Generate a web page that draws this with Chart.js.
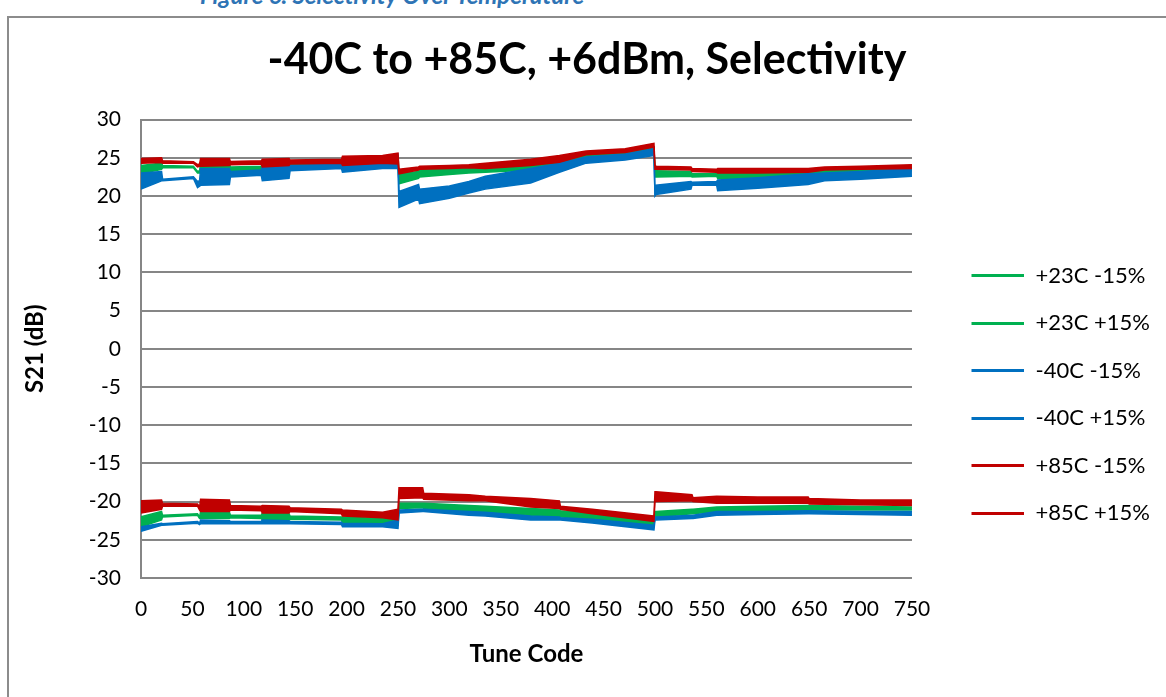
<!DOCTYPE html>
<html>
<head>
<meta charset="utf-8">
<script src="https://cdn.jsdelivr.net/npm/chart.js@4.4.1/dist/chart.umd.min.js"></script>
<style>
  html, body { margin: 0; padding: 0; background: #fff; overflow: hidden; }
  #caption { position: absolute; top: -20px; left: 200px; font: italic bold 24px Lato, sans-serif; color: #2E74B5; white-space: nowrap; }
  #frame { position: absolute; left: 7px; top: 16px; width: 1180px; height: 700px; border: 2px solid #8c8c8c; box-sizing: border-box; }
  #wrap { position: absolute; left: 0; top: 0; width: 1166px; height: 697px; }
</style>
</head>
<body>
<div id="caption">Figure 6. Selectivity Over Temperature</div>
<div id="frame"></div>
<div id="wrap"><canvas id="chart"></canvas></div>
<script>
// tune codes where the traces were read (upper group / lower group)
const topCodes = [0, 20, 21, 51, 55, 57, 58, 86, 87, 117, 118, 144, 145, 195, 196, 235, 250, 251, 270, 271, 300, 319, 335, 379, 407, 433, 471, 499, 500, 501, 535, 536, 560, 561, 600, 649, 665, 700, 750];
const botCodes = [0, 20, 21, 55, 57, 58, 86, 87, 117, 118, 144, 145, 195, 196, 235, 250, 251, 274, 275, 319, 335, 379, 407, 408, 439, 499, 500, 501, 536, 537, 560, 600, 649, 650, 700, 750];

// each trace ripples code to code, so it is kept as its upper and lower edge (dB)
const g23TopHi = [24.0, 24.3, 24.0, 23.9, 23.2, 23.3, 24.4, 24.4, 23.8, 23.9, 24.4, 24.5, 24.2, 24.4, 24.8, 25.1, 25.3, 22.9, 23.2, 23.5, 23.6, 23.6, 23.9, 24.4, 24.8, 25.5, 25.9, 26.4, 23.3, 23.3, 23.2, 22.9, 22.9, 23.1, 23.1, 23.2, 23.4, 23.5, 23.8];
const g23TopLo = [22.9, 23.5, 23.7, 23.7, 23.0, 23.0, 23.3, 23.4, 23.2, 23.4, 23.2, 23.5, 23.8, 24.0, 23.8, 24.1, 24.0, 21.6, 22.3, 22.5, 22.8, 23.0, 23.1, 23.4, 23.9, 24.9, 25.3, 25.9, 22.5, 22.5, 22.6, 22.5, 22.6, 22.3, 22.3, 22.5, 22.9, 23.0, 23.3];
const m40TopHi = [23.0, 23.2, 22.2, 22.5, 21.9, 22.0, 23.6, 23.6, 23.2, 23.4, 23.9, 24.0, 24.0, 24.2, 24.6, 24.8, 25.5, 20.6, 21.5, 20.9, 21.3, 21.9, 22.6, 23.6, 24.3, 25.1, 25.5, 26.2, 20.1, 21.4, 21.9, 21.8, 21.9, 22.1, 22.4, 22.9, 23.0, 23.2, 23.6];
const m40TopLo = [20.9, 22.0, 22.0, 22.3, 21.1, 21.3, 21.4, 21.5, 22.5, 22.7, 22.0, 22.3, 23.3, 23.6, 23.1, 23.6, 23.6, 18.5, 19.6, 19.0, 19.7, 20.4, 20.9, 21.7, 23.1, 24.3, 24.7, 25.3, 20.0, 20.2, 20.9, 21.4, 21.4, 20.7, 21.0, 21.5, 22.0, 22.2, 22.6];
const p85TopHi = [24.9, 25.0, 24.6, 24.5, 24.1, 24.2, 24.9, 24.9, 24.5, 24.6, 24.8, 24.9, 24.7, 24.8, 25.2, 25.3, 25.6, 23.5, 23.8, 23.9, 24.0, 24.1, 24.3, 24.8, 25.3, 25.9, 26.2, 26.9, 24.0, 23.9, 23.8, 23.6, 23.5, 23.6, 23.6, 23.6, 23.8, 23.9, 24.1];
const p85TopLo = [24.3, 24.4, 24.3, 24.3, 23.8, 23.9, 23.9, 24.0, 24.1, 24.2, 23.8, 24.0, 24.2, 24.3, 24.0, 24.3, 24.2, 22.9, 23.4, 23.5, 23.6, 23.7, 23.6, 24.0, 24.4, 25.4, 25.7, 26.4, 23.5, 23.5, 23.4, 23.2, 23.1, 23.0, 23.0, 23.1, 23.4, 23.5, 23.6];

const g23BotHi = [-22.0, -21.3, -21.8, -21.6, -22.0, -21.3, -21.4, -21.8, -21.8, -21.5, -21.6, -21.9, -22.0, -22.0, -22.2, -22.0, -20.2, -20.2, -20.2, -20.5, -20.6, -20.9, -21.1, -21.2, -21.5, -22.3, -21.3, -21.3, -21.0, -21.0, -20.7, -20.6, -20.5, -20.5, -20.6, -20.7];
const g23BotLo = [-23.3, -22.4, -22.0, -21.8, -22.2, -22.2, -22.2, -22.1, -22.2, -22.4, -22.4, -22.3, -22.4, -22.8, -22.9, -23.1, -20.9, -20.8, -20.9, -21.3, -21.4, -21.8, -22.0, -22.0, -22.2, -23.1, -22.0, -22.0, -21.6, -21.6, -21.3, -21.2, -21.1, -21.1, -21.1, -21.1];
const m40BotHi = [-23.3, -22.85, -22.9, -22.6, -22.8, -22.4, -22.5, -22.6, -22.6, -22.4, -22.5, -22.6, -22.7, -22.85, -22.9, -22.4, -21.1, -21.0, -21.0, -21.3, -21.4, -21.9, -22.0, -22.1, -22.3, -23.1, -22.0, -22.0, -21.8, -21.8, -21.3, -21.3, -21.2, -21.2, -21.3, -21.3];
const m40BotLo = [-23.9, -23.1, -23.1, -22.85, -23.0, -22.9, -22.9, -22.9, -22.9, -22.9, -22.9, -22.9, -23.0, -23.3, -23.3, -23.5, -21.5, -21.3, -21.3, -21.8, -21.9, -22.4, -22.4, -22.4, -22.8, -23.7, -22.4, -22.4, -22.2, -22.2, -21.8, -21.7, -21.6, -21.6, -21.7, -21.8];
const p85BotHi = [-19.9, -19.8, -20.2, -20.3, -20.7, -19.7, -19.8, -20.5, -20.6, -20.5, -20.6, -20.8, -21.0, -21.1, -21.4, -21.0, -18.2, -18.2, -18.9, -19.1, -19.3, -19.6, -19.9, -20.6, -21.0, -21.9, -18.7, -18.7, -19.1, -19.5, -19.3, -19.4, -19.4, -19.6, -19.8, -19.8];
const p85BotLo = [-21.5, -21.0, -20.6, -20.6, -21.1, -21.3, -21.3, -21.1, -21.2, -21.5, -21.5, -21.3, -21.6, -21.9, -22.1, -22.4, -19.6, -19.5, -19.7, -19.9, -19.9, -20.7, -20.9, -21.0, -21.6, -22.6, -19.9, -20.0, -19.9, -20.0, -20.2, -20.2, -20.2, -20.3, -20.4, -20.5];

const GREEN = '#00B050', BLUE = '#0070C0', RED = '#C00000';
const FONT = 'Lato, "Open Sans", sans-serif';

// lower edge line + upper edge line filled down to it
function band(name, color, codes, lo, hi, order) {
    return [
        { label: name + ' lo', isLower: true, data: codes.map((c, i) => ({ x: c, y: lo[i] })),
          borderColor: color, backgroundColor: color, fill: false, order: order },
        { label: name, data: codes.map((c, i) => ({ x: c, y: hi[i] })),
          borderColor: color, backgroundColor: color, fill: '-1', order: order }
    ];
}

// legend marker: blank lead-in then the line sample, keeps the legend clear of the plot
const LEGEND_GAP = 34, LEGEND_LINE = 53;
function legendLine(color) {
    const c = document.createElement('canvas');
    c.width = LEGEND_GAP + LEGEND_LINE;
    c.height = 3;
    const ctx = c.getContext('2d');
    ctx.fillStyle = color;
    ctx.fillRect(LEGEND_GAP, 0, LEGEND_LINE, 3);
    return c;
}

const datasets = [].concat(
    band('+23C -15%', GREEN, topCodes, g23TopLo, g23TopHi, 3),
    band('+23C +15%', GREEN, botCodes, g23BotLo, g23BotHi, 3),
    band('-40C -15%', BLUE, topCodes, m40TopLo, m40TopHi, 2),
    band('-40C +15%', BLUE, botCodes, m40BotLo, m40BotHi, 2),
    band('+85C -15%', RED, topCodes, p85TopLo, p85TopHi, 1),
    band('+85C +15%', RED, botCodes, p85BotLo, p85BotHi, 1)
);

new Chart(document.getElementById('chart'), {
    type: 'line',
    data: { datasets: datasets },
    options: {
        responsive: true,
        maintainAspectRatio: false,
        animation: false,
        layout: { padding: { top: 16, left: 14, right: 6, bottom: 20 } },
        elements: {
            point: { radius: 0 },
            line: { borderWidth: 1.5, tension: 0 }
        },
        plugins: {
            tooltip: { enabled: false },
            title: {
                display: true,
                text: '-40C to +85C, +6dBm, Selectivity',
                color: '#000',
                font: { family: FONT, size: 43, weight: 'bold' },
                padding: { top: 18, bottom: 34 }
            },
            legend: {
                position: 'right',
                title: { display: true, text: ' ', font: { size: 10 }, padding: { top: 84, bottom: 0 } },
                labels: {
                    color: '#000',
                    font: { family: FONT, size: 22 },
                    usePointStyle: true,
                    pointStyleWidth: LEGEND_GAP + LEGEND_LINE,
                    padding: 25.5,
                    generateLabels: chart => {
                        const items = Chart.defaults.plugins.legend.labels.generateLabels(chart);
                        return items
                            .filter(it => !chart.data.datasets[it.datasetIndex].isLower)
                            .sort((a, b) => a.datasetIndex - b.datasetIndex)
                            .map(it => Object.assign(it, { pointStyle: legendLine(it.strokeStyle) }));
                    }
                }
            }
        },
        scales: {
            x: {
                type: 'linear',
                min: 0,
                max: 750,
                grid: { display: false },
                border: { display: false },
                ticks: { stepSize: 50, color: '#000', padding: 11, font: { family: FONT, size: 21 } },
                title: { display: true, text: 'Tune Code', color: '#000', font: { family: FONT, size: 24, weight: 'bold' }, padding: { top: 10, bottom: 8 } },
                afterFit: scale => { scale.height = 99; }
            },
            y: {
                min: -30,
                max: 30,
                grid: { color: '#868686', lineWidth: 2, drawTicks: false },
                border: { display: true, color: '#868686', width: 2 },
                ticks: { stepSize: 5, color: '#000', padding: 20, font: { family: FONT, size: 21 } },
                title: { display: true, text: 'S21 (dB)', color: '#000', font: { family: FONT, size: 24, weight: 'bold' }, padding: { top: 7, bottom: 10 } },
                afterFit: scale => { scale.width = 127; }
            }
        }
    }
});
</script>
</body>
</html>
